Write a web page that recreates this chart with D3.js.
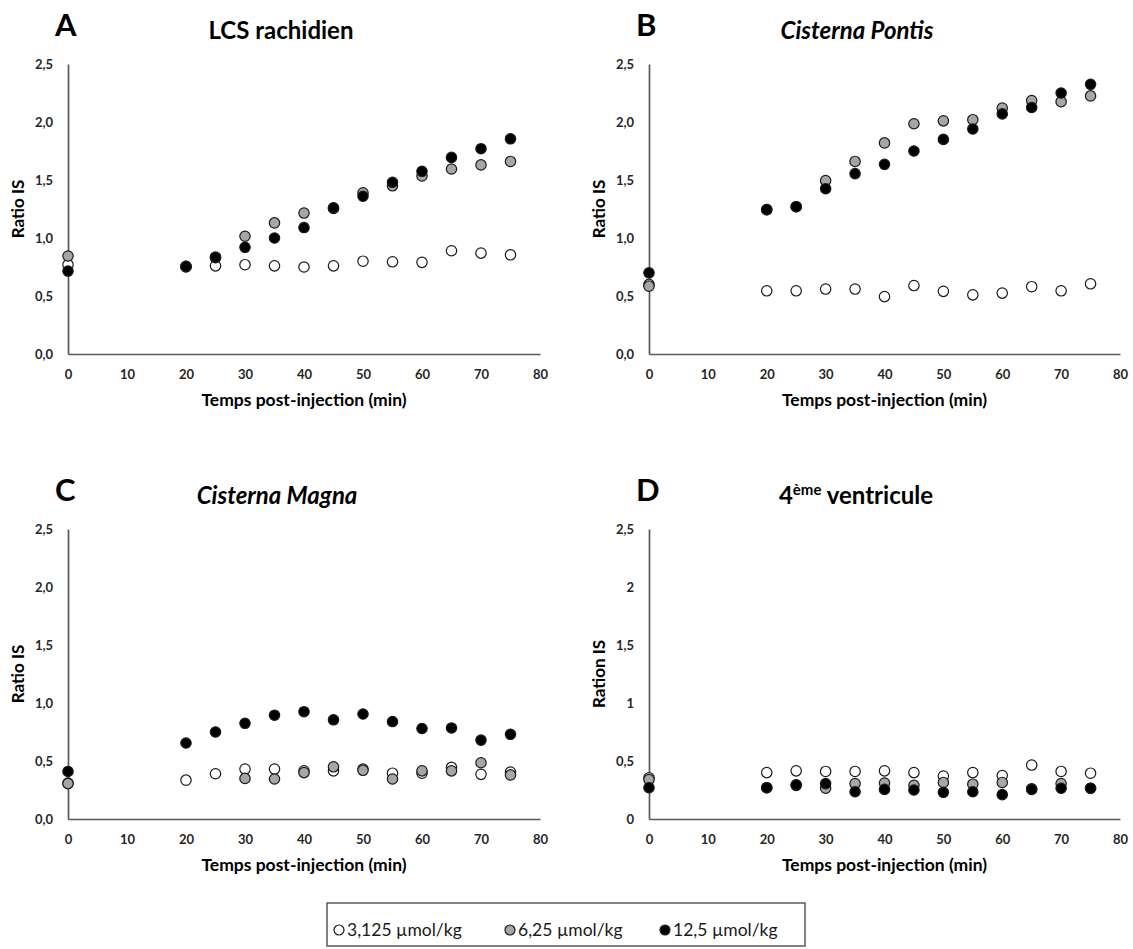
<!DOCTYPE html>
<html>
<head>
<meta charset="utf-8">
<script src="https://cdn.jsdelivr.net/npm/d3@7"></script>
<style>
  body { margin: 0; background: #fff; }
  svg { display: block; font-family: Lato, "Open Sans", sans-serif; }
</style>
</head>
<body>
<svg id="chart" width="1133" height="949"></svg>
<script>
// ---------- data ----------
const times = [0, 20, 25, 30, 35, 40, 45, 50, 55, 60, 65, 70, 75];
const xTickValues = [0, 10, 20, 30, 40, 50, 60, 70, 80];
const yTickValues = [0, 0.5, 1, 1.5, 2, 2.5];
const yTickLabelsComma = ["0,0", "0,5", "1,0", "1,5", "2,0", "2,5"];
const yTickLabelsPlain = ["0", "0,5", "1", "1,5", "2", "2,5"];
const seriesNames = ["3,125 µmol/kg", "6,25 µmol/kg", "12,5 µmol/kg"];
const seriesFills = ["#ffffff", "#a6a6a6", "#000000"];

// A — LCS rachidien
const lcsLow  = [0.77, 0.75, 0.76, 0.77, 0.76, 0.75, 0.76, 0.80, 0.795, 0.79, 0.89, 0.87, 0.855];
const lcsMid  = [0.845, 0.755, 0.83, 1.015, 1.13, 1.215, 1.255, 1.39, 1.45, 1.535, 1.595, 1.63, 1.66];
const lcsHigh = [0.715, 0.755, 0.835, 0.92, 1.00, 1.09, 1.26, 1.36, 1.48, 1.575, 1.695, 1.77, 1.855];
// B — Cisterna Pontis
const pontisLow  = [0.60, 0.545, 0.545, 0.56, 0.56, 0.495, 0.59, 0.54, 0.51, 0.525, 0.58, 0.545, 0.605];
const pontisMid  = [0.585, 1.245, 1.27, 1.495, 1.66, 1.82, 1.985, 2.01, 2.02, 2.12, 2.185, 2.175, 2.225];
const pontisHigh = [0.70, 1.245, 1.27, 1.425, 1.555, 1.635, 1.75, 1.85, 1.94, 2.07, 2.125, 2.25, 2.325];
// C — Cisterna Magna
const magnaLow  = [0.31, 0.335, 0.39, 0.43, 0.43, 0.415, 0.415, 0.43, 0.395, 0.395, 0.445, 0.385, 0.405];
const magnaMid  = [0.305, null, null, 0.35, 0.345, 0.40, 0.45, 0.42, 0.345, 0.415, 0.415, 0.485, 0.38];
const magnaHigh = [0.41, 0.655, 0.75, 0.825, 0.895, 0.925, 0.855, 0.905, 0.84, 0.78, 0.785, 0.68, 0.73];
// D — 4ème ventricule
const ventLow  = [0.355, 0.40, 0.415, 0.41, 0.41, 0.415, 0.40, 0.37, 0.40, 0.375, 0.465, 0.41, 0.395];
const ventMid  = [0.34, 0.27, 0.29, 0.265, 0.305, 0.31, 0.29, 0.315, 0.30, 0.315, 0.26, 0.305, 0.265];
const ventHigh = [0.27, 0.27, 0.295, 0.305, 0.235, 0.255, 0.25, 0.23, 0.235, 0.21, 0.255, 0.265, 0.265];

const panels = [
  { letter: "A", title: "LCS rachidien", italic: false, ylabel: "Ratio IS", yLabels: yTickLabelsComma,
    series: [lcsLow, lcsMid, lcsHigh], left: 68, right: 540, top: 64, bottom: 354, titleX: 281 },
  { letter: "B", title: "Cisterna Pontis", italic: true, ylabel: "Ratio IS", yLabels: yTickLabelsComma,
    series: [pontisLow, pontisMid, pontisHigh], left: 649, right: 1120, top: 64, bottom: 354, titleX: 857 },
  { letter: "C", title: "Cisterna Magna", italic: true, ylabel: "Ratio IS", yLabels: yTickLabelsComma,
    series: [magnaLow, magnaMid, magnaHigh], left: 68, right: 540, top: 529, bottom: 819, titleX: 277 },
  { letter: "D", title: "4ème ventricule", italic: false, sup: true, ylabel: "Ration IS", yLabels: yTickLabelsPlain,
    series: [ventLow, ventMid, ventHigh], left: 649, right: 1120, top: 529, bottom: 819, titleX: 856 }
];

const svg = d3.select("#chart");
const axisColor = "#595959";

panels.forEach(p => {
  const g = svg.append("g");
  const x = d3.scaleLinear().domain([0, 80]).range([p.left, p.right]);
  const y = d3.scaleLinear().domain([0, 2.5]).range([p.bottom, p.top]);

  const xa = g.append("g").attr("transform", `translate(0,${p.bottom})`)
    .call(d3.axisBottom(x).tickValues(xTickValues).tickSize(0).tickSizeOuter(0).tickPadding(16)
      .tickFormat(d3.format("d")));
  const ya = g.append("g").attr("transform", `translate(${p.left},0)`)
    .call(d3.axisLeft(y).tickValues(yTickValues).tickSize(0).tickSizeOuter(0).tickPadding(15)
      .tickFormat((d, i) => p.yLabels[i]));
  [xa, ya].forEach(a => {
    a.select(".domain").attr("stroke", axisColor).attr("stroke-width", 1.7);
    a.selectAll("text").attr("font-size", 13).attr("font-weight", 700).attr("fill", "#262626")
      .attr("font-family", "Lato, sans-serif");
  });

  p.series.forEach((vals, si) => {
    const pts = times.map((t, i) => ({ t, v: vals[i] })).filter(d => d.v != null);
    g.append("g").selectAll("circle").data(pts).join("circle")
      .attr("cx", d => x(d.t)).attr("cy", d => y(d.v)).attr("r", 5.2)
      .attr("fill", seriesFills[si]).attr("stroke", "#1a1a1a").attr("stroke-width", 1.2);
  });

  g.append("text").attr("x", p.left - 13).attr("y", p.top - 28)
    .attr("font-size", 31).attr("font-weight", 700).attr("fill", "#000").text(p.letter);

  const t = g.append("text").attr("x", p.titleX).attr("y", p.top - 25).attr("text-anchor", "middle")
    .attr("font-size", 24).attr("font-weight", 700).attr("fill", "#000")
    .attr("font-style", p.italic ? "italic" : "normal");
  if (p.sup) {
    t.append("tspan").text("4");
    t.append("tspan").attr("font-size", 15).attr("dy", -9).text("ème");
    t.append("tspan").attr("dy", 9).text(" ventricule");
  } else {
    t.text(p.title);
  }

  g.append("text").attr("x", (p.left + p.right) / 2).attr("y", p.bottom + 52).attr("text-anchor", "middle")
    .attr("font-size", 17.5).attr("font-weight", 700).attr("fill", "#000").text("Temps post-injection (min)");
  const cy = (p.top + p.bottom) / 2;
  g.append("text").attr("transform", `translate(${p.left - 44},${cy}) rotate(-90)`)
    .attr("text-anchor", "middle").attr("font-size", 17).attr("font-weight", 700).attr("fill", "#000")
    .text(p.ylabel);
});

// legend
const lg = svg.append("g");
lg.append("rect").attr("x", 327).attr("y", 903).attr("width", 478).attr("height", 43)
  .attr("fill", "#fff").attr("stroke", axisColor).attr("stroke-width", 1.5);
const legendX = [339, 510, 665];
seriesNames.forEach((name, i) => {
  lg.append("circle").attr("cx", legendX[i]).attr("cy", 930).attr("r", 5)
    .attr("fill", seriesFills[i]).attr("stroke", "#1a1a1a").attr("stroke-width", 1.2);
  lg.append("text").attr("x", legendX[i] + 8).attr("y", 936).attr("font-size", 17.5)
    .attr("fill", "#1a1a1a").text(name);
});
</script>
</body>
</html>
